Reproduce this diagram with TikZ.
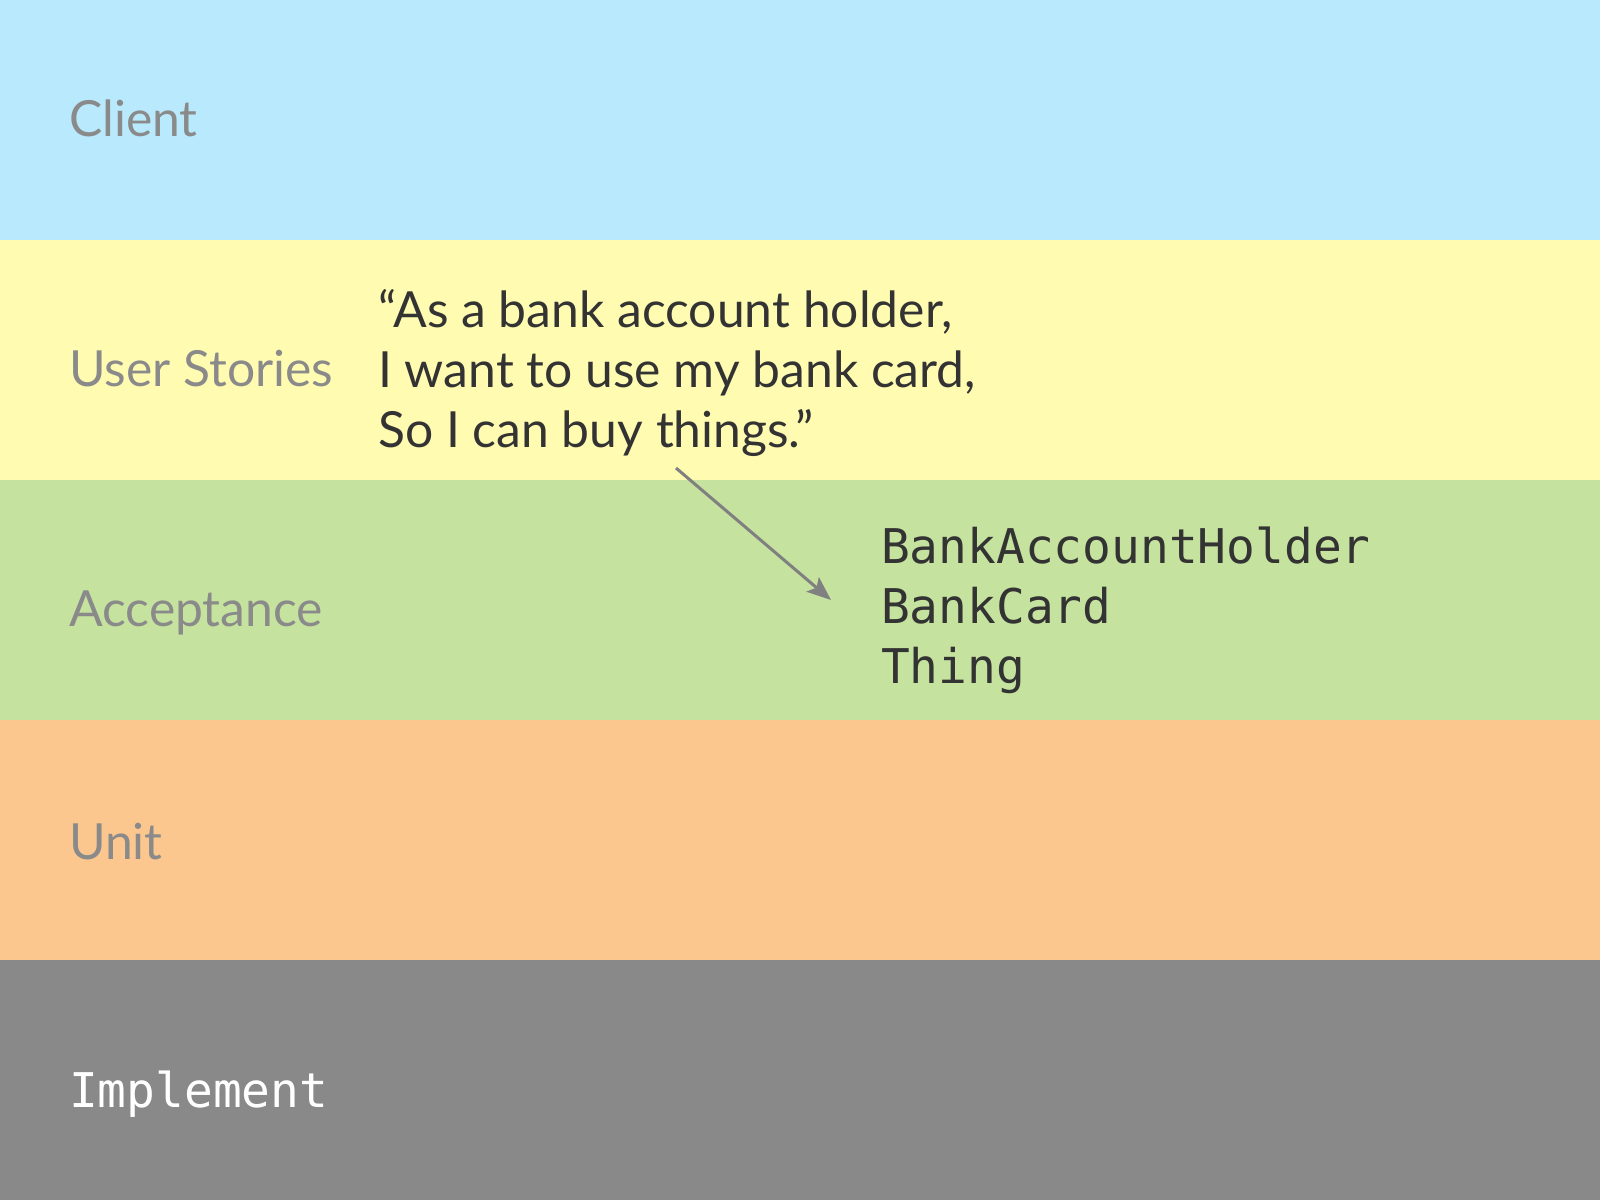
\documentclass[tikz,border=0pt]{standalone}
\usepackage{fontspec}
\setmainfont{Lato}
\setmonofont{DejaVu Sans Mono}
\usetikzlibrary{arrows.meta}
\definecolor{bandblue}{HTML}{B8E9FC}
\definecolor{bandyellow}{HTML}{FFFBB1}
\definecolor{bandgreen}{HTML}{C5E29F}
\definecolor{bandorange}{HTML}{FBC78F}
\definecolor{bandgrey}{HTML}{898989}
\definecolor{labelgrey}{HTML}{8A8A8A}
\definecolor{textdark}{HTML}{333333}
\definecolor{arrowgrey}{HTML}{808080}
\tikzset{
  lbl/.style={anchor=base west, inner sep=0pt, text=labelgrey, font=\fontsize{50}{60}\selectfont},
  quote/.style={anchor=base west, inner sep=0pt, text=textdark, font=\fontsize{50}{60}\selectfont},
  code/.style={anchor=base west, inner sep=0pt, text=textdark, font=\ttfamily\fontsize{48}{60}\selectfont},
  conn/.style={draw=arrowgrey, line width=3bp, -{Stealth[length=24bp,width=19bp,inset=5bp]}}
}
\begin{document}
\begin{tikzpicture}[x=1bp,y=-1bp]
\useasboundingbox (0,0) rectangle (1600,1200);
\fill[bandblue] (0,0) rectangle (1600,240);
\fill[bandyellow] (0,240) rectangle (1600,480);
\fill[bandgreen] (0,480) rectangle (1600,720);
\fill[bandorange] (0,720) rectangle (1600,960);
\fill[bandgrey] (0,960) rectangle (1600,1200);

\node[lbl] (client) at (69,136) {Client};
\node[lbl] (stories) at (69,386) {User Stories};
\node[lbl] (accept) at (69,626) {Acceptance};
\node[lbl] (unit) at (69,859) {Unit};
\node[code, text=white] (impl) at (69,1107) {Implement};

\node[quote] (q1) at (378,327) {“As a bank account holder,};
\node[quote] (q2) at (378,387) {I want to use my bank card,};
\node[quote] (q3) at (378,447) {So I can buy things.”};

\node[code] (c1) at (881,563) {BankAccountHolder};
\node[code] (c2) at (881,623) {BankCard};
\node[code] (c3) at (881,683) {Thing};

\coordinate (astart) at (676,468);
\coordinate (aend) at (831,600);
\draw[conn] (astart) -- (aend);
\end{tikzpicture}
\end{document}
